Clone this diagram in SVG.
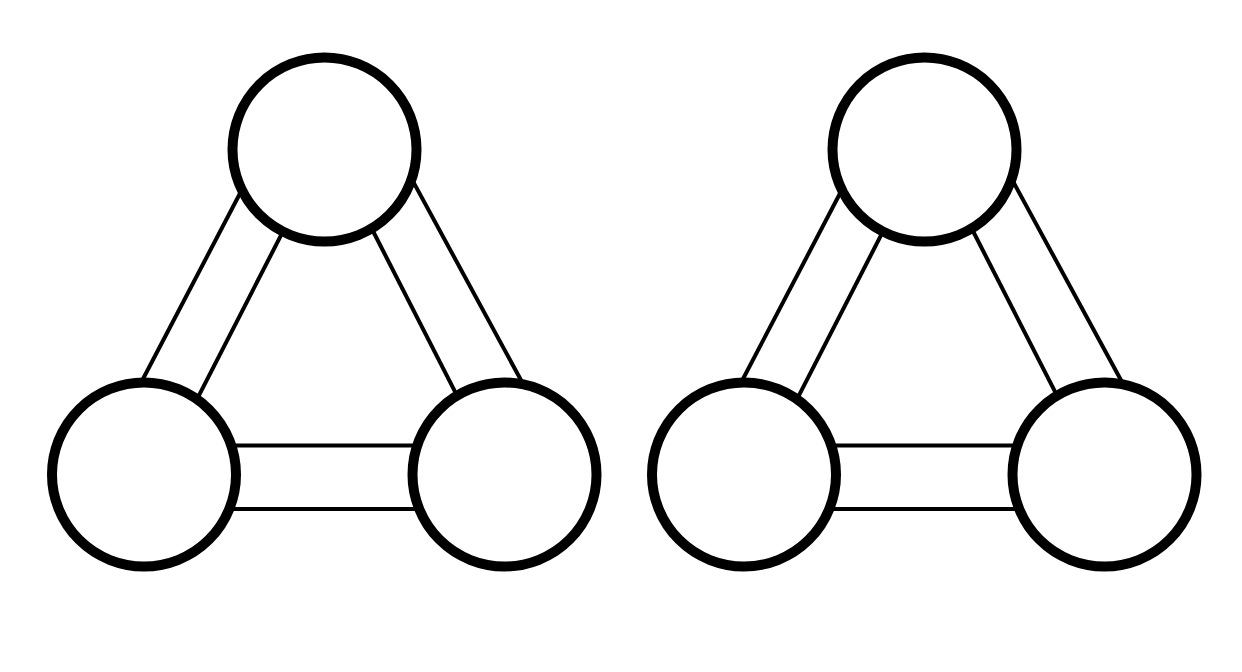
<svg xmlns="http://www.w3.org/2000/svg" width="1242" height="672" viewBox="0 0 1242 672">
  <style>
    .edge { stroke: #000; stroke-width: 4; fill: none; }
    .node { fill: #fff; stroke: #000; stroke-width: 10; }
  </style>
  <rect width="1242" height="672" fill="#fff"/>
  <g id="connectors">
    <g id="left-edges">
      <line class="edge" x1="240.6" y1="192.3" x2="141" y2="382.7"/>
      <line class="edge" x1="282.6" y1="232.2" x2="197.7" y2="397.8"/>
      <line class="edge" x1="412.6" y1="180.6" x2="522.4" y2="382.7"/>
      <line class="edge" x1="372.7" y1="230.5" x2="457.3" y2="396.2"/>
      <line class="edge" x1="230" y1="445.5" x2="420" y2="445.5"/>
      <line class="edge" x1="230" y1="509" x2="420" y2="509"/>
    </g>
    <g id="right-edges" transform="translate(600,0)">
      <line class="edge" x1="240.6" y1="192.3" x2="141" y2="382.7"/>
      <line class="edge" x1="282.6" y1="232.2" x2="197.7" y2="397.8"/>
      <line class="edge" x1="412.6" y1="180.6" x2="522.4" y2="382.7"/>
      <line class="edge" x1="372.7" y1="230.5" x2="457.3" y2="396.2"/>
      <line class="edge" x1="230" y1="445.5" x2="420" y2="445.5"/>
      <line class="edge" x1="230" y1="509" x2="420" y2="509"/>
    </g>
  </g>
  <g id="node-l-top"><circle class="node" cx="324.5" cy="149.5" r="92"/></g>
  <g id="node-l-left"><circle class="node" cx="144" cy="474.5" r="92"/></g>
  <g id="node-l-right"><circle class="node" cx="504.5" cy="474.5" r="92"/></g>
  <g id="node-r-top"><circle class="node" cx="924.5" cy="149.5" r="92"/></g>
  <g id="node-r-left"><circle class="node" cx="744" cy="474.5" r="92"/></g>
  <g id="node-r-right"><circle class="node" cx="1104.5" cy="474.5" r="92"/></g>
</svg>
